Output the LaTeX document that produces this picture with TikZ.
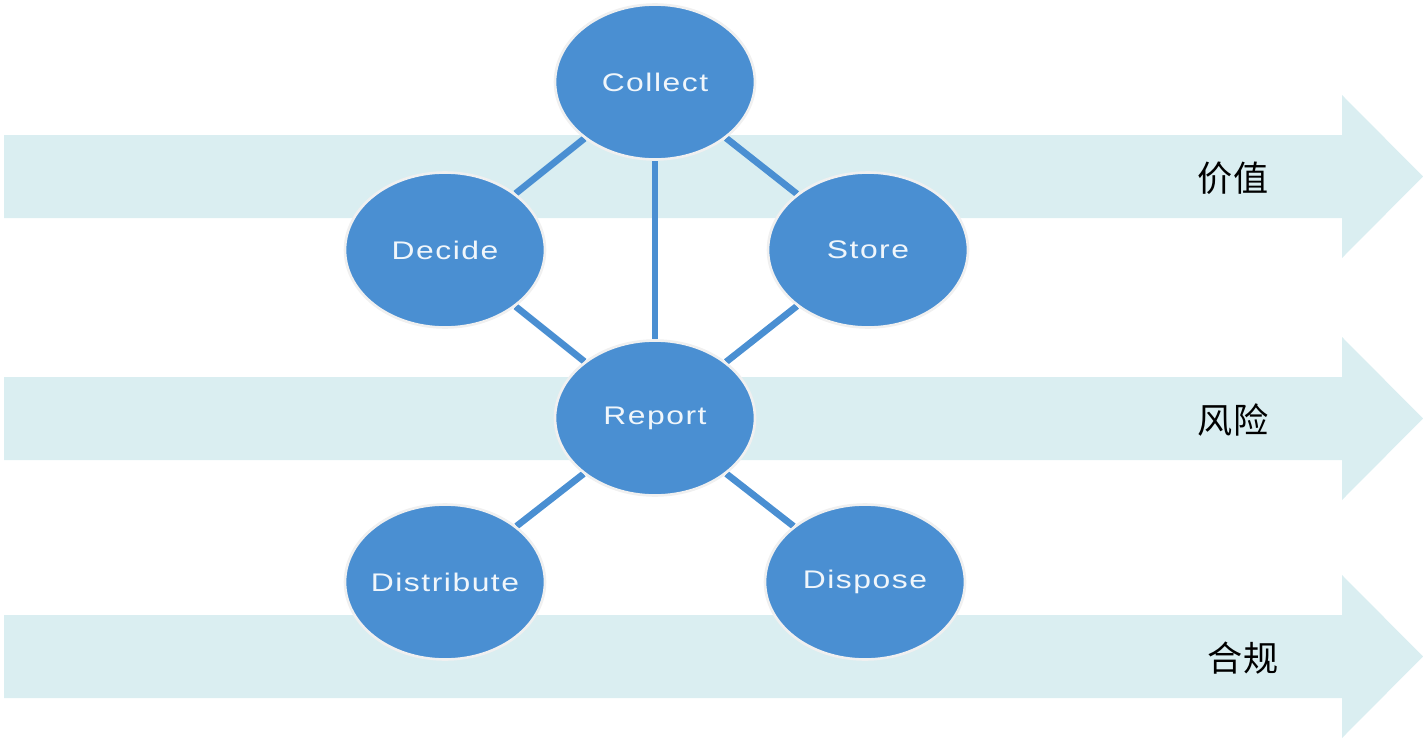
\documentclass[tikz,border=0pt]{standalone}
\usepackage{fontspec}
\usetikzlibrary{shapes.geometric}
\pgfdeclarelayer{bg}
\pgfsetlayers{bg,main}
\newfontfamily\cjkfont{Noto Sans CJK SC}
\newfontfamily\stagefont[FakeStretch=1.25,LetterSpace=6]{Liberation Sans}
\definecolor{bandcyan}{HTML}{DAEEF1}
\definecolor{stageblue}{HTML}{4A8FD2}
\tikzset{
	stage/.style={ellipse, fill=stageblue, draw=white!88!gray, line width=1.5pt,
		inner sep=0pt, minimum width=4cm, minimum height=3.1cm},
	stagetext/.style={text=white!92!stageblue, font=\stagefont\fontsize{14.5}{17}\selectfont},
	link/.style={stageblue, line width=3.8pt},
	band/.style={fill=bandcyan},
	lane/.style={font=\cjkfont\fontsize{20}{24}\selectfont}
}
\begin{document}
\begin{tikzpicture}[x=0.02cm,y=-0.02cm]
		\useasboundingbox (0,0) rectangle (1423,737);
		% lifecycle stages
		\node[stage, label={[stagetext]center:Collect}] (collect) at (655,82) {};
		\node[stage, label={[stagetext]center:Decide}] (decide) at (445,250) {};
		\node[stage, label={[stagetext]center:Store}] (store) at (868,250) {};
		\node[stage, label={[stagetext]center:Report}] (report) at (655,418) {};
		\node[stage, label={[stagetext]center:Distribute}] (distribute) at (445,582) {};
		\node[stage, label={[stagetext]center:Dispose}] (dispose) at (865,582) {};
		% lane labels
		\node[lane] (value) at (1233,178) {价值};
		\node[lane] (risk) at (1233,420) {风险};
		\node[lane] (comply) at (1243,658) {合规};
		\begin{pgfonlayer}{bg}
		\fill[band] (4,135) -- (1342,135) -- (1342,95) -- (1423,176.5) -- (1342,258) -- (1342,218) -- (4,218) -- cycle;
		\fill[band] (4,377) -- (1342,377) -- (1342,337) -- (1423,418.5) -- (1342,500) -- (1342,460) -- (4,460) -- cycle;
		\fill[band] (4,615) -- (1342,615) -- (1342,575) -- (1423,656.5) -- (1342,738) -- (1342,698) -- (4,698) -- cycle;
		\draw[link] (collect) -- (decide);
		\draw[link] (collect) -- (store);
		\draw[link] (collect) -- (report);
		\draw[link] (decide) -- (report);
		\draw[link] (store) -- (report);
		\draw[link] (report) -- (distribute);
		\draw[link] (report) -- (dispose);
		\end{pgfonlayer}
	\end{tikzpicture}
\end{document}
